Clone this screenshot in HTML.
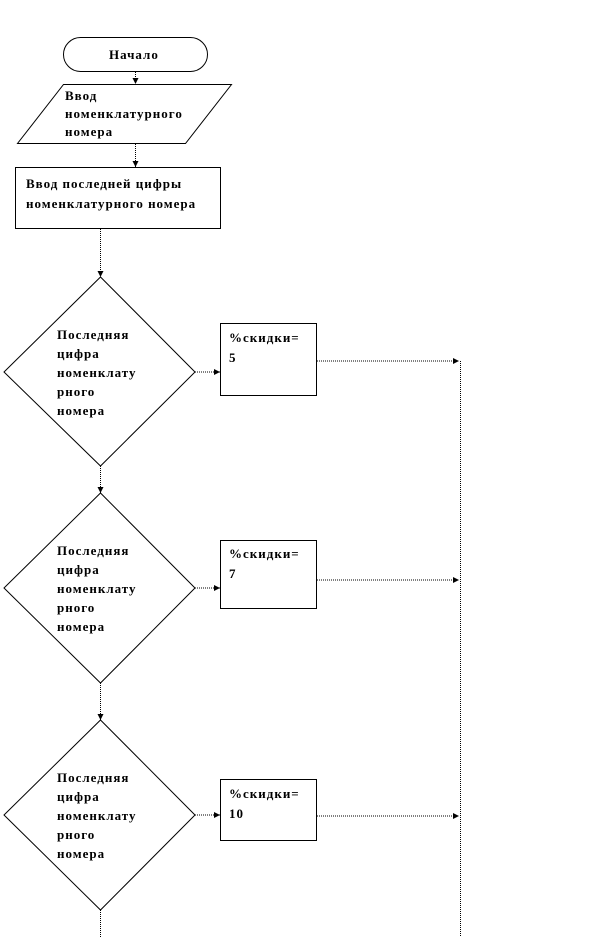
<!DOCTYPE html>
<html><head><meta charset="utf-8"><style>
body{margin:0;background:#fff;width:616px;height:937px;overflow:hidden}
svg text{font-family:"Liberation Serif",serif;font-weight:bold;font-size:13px;letter-spacing:1px;fill:#000}
</style></head><body>
<svg width="616" height="937" viewBox="0 0 616 937" xmlns="http://www.w3.org/2000/svg">
<defs><marker id="a" markerWidth="6" markerHeight="6" refX="6" refY="3" orient="auto" markerUnits="userSpaceOnUse"><path d="M0,0L6,3L0,6z" fill="#000"/></marker></defs>
<g fill="none" stroke="#000" stroke-width="1">
<rect x="63.5" y="37.5" width="144" height="34" rx="17"/>
<polygon points="63.5,84.5 231.5,84.5 185.5,143.5 17.5,143.5"/>
<rect x="15.5" y="167.5" width="205" height="61"/>
<polygon points="100.5,277 195,372 100.5,466 4,372"/>
<polygon points="100.5,493 195,588 100.5,683 4,588"/>
<polygon points="100.5,720 195,815 100.5,910 4,815"/>
<rect x="220.5" y="323.5" width="96" height="72"/>
<rect x="220.5" y="540.5" width="96" height="68"/>
<rect x="220.5" y="779.5" width="96" height="61"/>
<g stroke-dasharray="1,1">
<line x1="135.5" y1="72" x2="135.5" y2="84" marker-end="url(#a)"/>
<line x1="135.5" y1="144" x2="135.5" y2="167" marker-end="url(#a)"/>
<line x1="100.5" y1="229" x2="100.5" y2="277" marker-end="url(#a)"/>
<line x1="100.5" y1="466" x2="100.5" y2="493" marker-end="url(#a)"/>
<line x1="100.5" y1="683" x2="100.5" y2="720" marker-end="url(#a)"/>
<line x1="100.5" y1="910" x2="100.5" y2="937"/>
<line x1="195" y1="372" x2="220" y2="372" marker-end="url(#a)"/>
<line x1="195" y1="588" x2="220" y2="588" marker-end="url(#a)"/>
<line x1="195" y1="815" x2="220" y2="815" marker-end="url(#a)"/>
<line x1="317" y1="361" x2="459" y2="361" marker-end="url(#a)"/>
<line x1="317" y1="580" x2="459" y2="580" marker-end="url(#a)"/>
<line x1="317" y1="816" x2="459" y2="816" marker-end="url(#a)"/>
<line x1="460.5" y1="361" x2="460.5" y2="937"/>
</g></g>
<text x="109" y="59">Начало</text>
<text x="65" y="100">Ввод</text>
<text x="65" y="118">номенклатурного</text>
<text x="65" y="136">номера</text>
<text x="26" y="188">Ввод последней цифры</text>
<text x="26" y="208">номенклатурного номера</text>
<g><text x="57" y="339">Последняя</text><text x="57" y="358">цифра</text><text x="57" y="377">номенклату</text><text x="57" y="396">рного</text><text x="57" y="415">номера</text></g>
<g><text x="57" y="555">Последняя</text><text x="57" y="574">цифра</text><text x="57" y="593">номенклату</text><text x="57" y="612">рного</text><text x="57" y="631">номера</text></g>
<g><text x="57" y="782">Последняя</text><text x="57" y="801">цифра</text><text x="57" y="820">номенклату</text><text x="57" y="839">рного</text><text x="57" y="858">номера</text></g>
<text x="229" y="342">%скидки=</text><text x="229" y="362">5</text>
<text x="229" y="558">%скидки=</text><text x="229" y="578">7</text>
<text x="229" y="798">%скидки=</text><text x="229" y="818">10</text>
</svg>
</body></html>
